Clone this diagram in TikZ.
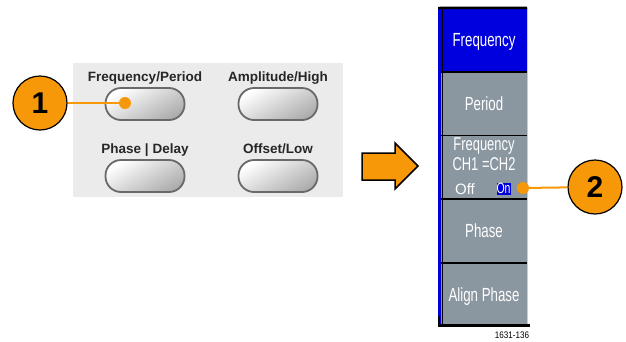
\documentclass[tikz,border=0pt]{standalone}
\usepackage{fontspec}
\setmainfont{Liberation Sans}
\newfontfamily\menufont[FakeStretch=0.7]{Liberation Sans}
\newfontfamily\codefont[FakeStretch=0.85]{Liberation Sans}
\usepackage{xcolor}
\usepackage{tikz}
\usetikzlibrary{positioning}
\definecolor{calloutorange}{RGB}{247,152,8}
\definecolor{panelgray}{RGB}{235,235,235}
\definecolor{menugray}{RGB}{138,150,160}
\definecolor{menublue}{RGB}{0,0,222}
\definecolor{knobedge}{RGB}{105,105,105}
\definecolor{menuedge}{RGB}{200,205,210}

\begin{document}
\begin{tikzpicture}[x=1pt,y=-1pt]
\tikzstyle{knob}=[rectangle,rounded corners=15.5pt,draw=knobedge,line width=1.8pt,minimum width=79pt,minimum height=32pt,inner sep=0pt,top color=white,bottom color=black!32,shading angle=30]
\tikzstyle{knoblabel}=[inner sep=0pt,text=black!85,font=\fontsize{13.5}{15}\selectfont\bfseries]
\tikzstyle{callout}=[circle,draw=black,line width=1.2pt,fill=calloutorange,minimum size=54pt,inner sep=0pt,font=\fontsize{30}{32}\selectfont\bfseries]
\tikzstyle{dot}=[circle,fill=calloutorange,minimum size=12pt,inner sep=0pt]
\tikzstyle{leader}=[calloutorange,line width=2pt]
\tikzstyle{softkey}=[rectangle,fill=menugray,minimum width=86pt,minimum height=63.4pt,inner sep=0pt,text depth=0pt,text=white,font=\menufont\fontsize{19}{20}\selectfont]
\tikzstyle{keyline}=[inner sep=0pt,text=white,font=\menufont\fontsize{18.5}{20}\selectfont]
\tikzstyle{divider}=[black,line width=1.8pt]
\useasboundingbox (0,0) rectangle (626,341);

% front panel buttons
\fill[panelgray] (73,63) rectangle (343,197);
\node[knob] (kfreq) at (145,104) {};
\node[knob] (kamp) at (278,104) {};
\node[knob] (kphase) at (145,176) {};
\node[knob] (koffset) at (278,176) {};
\node[knoblabel,above=5.3pt of kfreq,anchor=base] (lfreq) {Frequency/Period};
\node[knoblabel,above=5.3pt of kamp,anchor=base] (lamp) {Amplitude/High};
\node[knoblabel,above=5.8pt of kphase,anchor=base] (lphase) {Phase | Delay};
\node[knoblabel,above=5.8pt of koffset,anchor=base] (loffset) {Offset/Low};

\node[callout] (c1) at (40,103) {1};
\node[dot] (d1) at (125,103) {};
\draw[leader] (c1) -- (d1);

% big arrow
\draw[fill=calloutorange,line width=1.5pt,line join=miter] (362,153) -- (395,153) -- (395,143) -- (418,166) -- (395,189) -- (395,180) -- (362,180) -- cycle;

% softkey menu
\node[softkey,fill=menublue] (sfreq) at (484,39.7) {Frequency};
\node[softkey,below=0pt of sfreq] (speriod) {Period};
\node[softkey,below=0pt of speriod] (slock) {};
\node[softkey,below=0pt of slock] (sphase) {Phase};
\node[softkey,below=0pt of sphase] (salign) {Align Phase};
\node[keyline,anchor=base] (lockname) at ([yshift=-15pt]slock.north) {Frequency};
\node[keyline,anchor=base] (lockch) at ([yshift=-35pt]slock.north) {CH1 =CH2};
\node[inner sep=0pt,text=white,font=\fontsize{15}{16}\selectfont,anchor=base] (off) at (465,194) {Off};
\node[fill=menublue,inner sep=0pt,minimum width=14pt,minimum height=12pt,text=white,font=\menufont\fontsize{15}{16}\selectfont] (on) at (503.5,188.5) {On};

\fill[menublue] (438,8) rectangle (441,325);
\draw[black,line width=1pt] (442,8) -- (442,325);
\draw[menuedge,line width=1pt] (527,8) -- (527,325);
\draw[black,line width=2.5pt] (438,8) -- (sfreq.north east);
\draw[divider] (sfreq.south west) -- (sfreq.south east);
\draw[divider] (speriod.south west) -- (speriod.south east);
\draw[divider] (slock.south west) -- (slock.south east);
\draw[divider] (sphase.south west) -- (sphase.south east);
\draw[black,line width=3pt] (438,325) -- (530,325);
\draw[black,line width=2pt] (439,316) -- (439,325);
\node[inner sep=0pt,font=\codefont\fontsize{9.5}{10}\selectfont] (figid) at (512,335) {1631-136};

\node[dot] (d2) at (523,188) {};
\node[callout] (c2) at (595,187) {2};
\draw[leader] (d2) -- (c2);
\end{tikzpicture}
\end{document}
